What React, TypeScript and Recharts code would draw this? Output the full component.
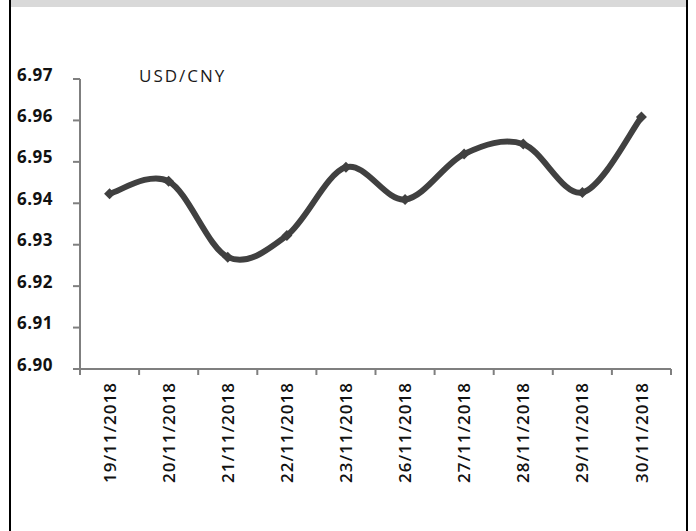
import React from 'react';
import { LineChart, Line, XAxis, YAxis, Legend } from 'recharts';

const categories = [
  '19/11/2018',
  '20/11/2018',
  '21/11/2018',
  '22/11/2018',
  '23/11/2018',
  '26/11/2018',
  '27/11/2018',
  '28/11/2018',
  '29/11/2018',
  '30/11/2018',
];
const usdCny = [6.9423, 6.9453, 6.927, 6.9322, 6.9487, 6.9409, 6.9519, 6.9543, 6.9426, 6.9608];
const yTicks = [6.9, 6.91, 6.92, 6.93, 6.94, 6.95, 6.96, 6.97];
const seriesName = 'USD/CNY';

const data = categories.map((date, i) => ({ date, value: usdCny[i] }));

const AXIS = '#7f7f7f';
const LINE = '#404040';
const FONT = '"Open Sans", "DejaVu Sans", sans-serif';

// Catmull-Rom style smoothing (similar to spreadsheet "smoothed line")
function smoothCurve(context: any) {
  let pts: number[][] = [];
  return {
    areaStart() {},
    areaEnd() {},
    lineStart() {
      pts = [];
    },
    point(x: number, y: number) {
      pts.push([+x, +y]);
    },
    lineEnd() {
      const n = pts.length;
      if (!n) return;
      context.moveTo(pts[0][0], pts[0][1]);
      for (let i = 0; i < n - 1; i++) {
        const p0 = pts[i - 1] || pts[i];
        const p1 = pts[i];
        const p2 = pts[i + 1];
        const p3 = pts[i + 2] || p2;
        const c1x = p1[0] + (p2[0] - p0[0]) / 6;
        const c1y = p1[1] + (p2[1] - p0[1]) / 6;
        const c2x = p2[0] - (p3[0] - p1[0]) / 6;
        const c2y = p2[1] - (p3[1] - p1[1]) / 6;
        context.bezierCurveTo(c1x, c1y, c2x, c2y, p2[0], p2[1]);
      }
    },
  };
}

const XTick = (props: any) => {
  const { x, y, payload, index, visibleTicksCount, width } = props;
  const count = visibleTicksCount || categories.length;
  const off =
    payload && typeof payload.offset === 'number' && payload.offset > 0
      ? payload.offset
      : width / count / 2;
  const isLast = index === count - 1;
  return (
    <g>
      <line x1={x - off} x2={x - off} y1={y} y2={y + 6} stroke={AXIS} strokeWidth={2} />
      {isLast && <line x1={x + off} x2={x + off} y1={y} y2={y + 6} stroke={AXIS} strokeWidth={2} />}
      <g transform={`translate(${x},${y + 13})`}>
        <text
          transform="rotate(-90)"
          textAnchor="end"
          dy="0.36em"
          fill="#111"
          fontFamily={FONT}
          fontSize={17}
          fontWeight={600}
          letterSpacing={1}
        >
          {payload.value}
        </text>
      </g>
    </g>
  );
};

const YTick = (props: any) => {
  const { x, y, payload } = props;
  return (
    <text
      x={x}
      y={y - 4.5}
      dy="0.36em"
      textAnchor="end"
      fill="#111"
      fontFamily={FONT}
      fontSize={17}
      fontWeight={700}
      letterSpacing={0.5}
    >
      {Number(payload.value).toFixed(2)}
    </text>
  );
};

const Diamond = (props: any) => {
  const { cx, cy, index } = props;
  if (cx == null || cy == null) return <g key={index} />;
  const s = 5.5;
  return (
    <path
      key={index}
      d={`M${cx},${cy - s}L${cx + s},${cy}L${cx},${cy + s}L${cx - s},${cy}Z`}
      fill={LINE}
    />
  );
};

const LegendContent = (props: any) => {
  const items = props.payload || [];
  const label = items.length ? items[0].value : seriesName;
  return (
    <div
      style={{
        fontFamily: FONT,
        fontSize: 17,
        letterSpacing: 2,
        color: '#1a1a1a',
        lineHeight: '17px',
        whiteSpace: 'nowrap',
      }}
    >
      {label}
    </div>
  );
};

export default function App() {
  return (
    <div
      style={{
        position: 'absolute',
        left: 0,
        top: 0,
        width: 696,
        height: 531,
        background: '#fff',
        overflow: 'hidden',
      }}
    >
      <div style={{ position: 'absolute', left: 11, top: 0, width: 675, height: 7, background: '#d9d9d9' }} />
      <div style={{ position: 'absolute', left: 9, top: 0, width: 2, height: 531, background: '#000' }} />
      <div style={{ position: 'absolute', left: 686, top: 0, width: 2, height: 531, background: '#000' }} />
      <div style={{ position: 'absolute', left: 0, top: 0 }}>
        <LineChart width={696} height={531} data={data} margin={{ top: 79, right: 25, bottom: 12, left: 0 }}>
          <XAxis
            dataKey="date"
            scale="band"
            interval={0}
            height={150}
            tickSize={0}
            tickMargin={0}
            tickLine={false}
            axisLine={{ stroke: AXIS, strokeWidth: 2 }}
            tick={<XTick />}
          />
          <YAxis
            width={80}
            domain={[6.9, 6.97]}
            ticks={yTicks}
            interval={0}
            allowDataOverflow
            tickSize={7}
            tickMargin={20}
            axisLine={{ stroke: AXIS, strokeWidth: 2 }}
            tickLine={{ stroke: AXIS, strokeWidth: 2 }}
            tick={<YTick />}
          />
          <Legend
            layout="vertical"
            align="center"
            verticalAlign="middle"
            content={<LegendContent />}
            wrapperStyle={{ left: 139, top: 67, width: 'auto' }}
          />
          <Line
            dataKey="value"
            name={seriesName}
            type={smoothCurve as any}
            stroke={LINE}
            strokeWidth={6}
            dot={<Diamond />}
            activeDot={false}
            isAnimationActive={false}
          />
        </LineChart>
      </div>
    </div>
  );
}
